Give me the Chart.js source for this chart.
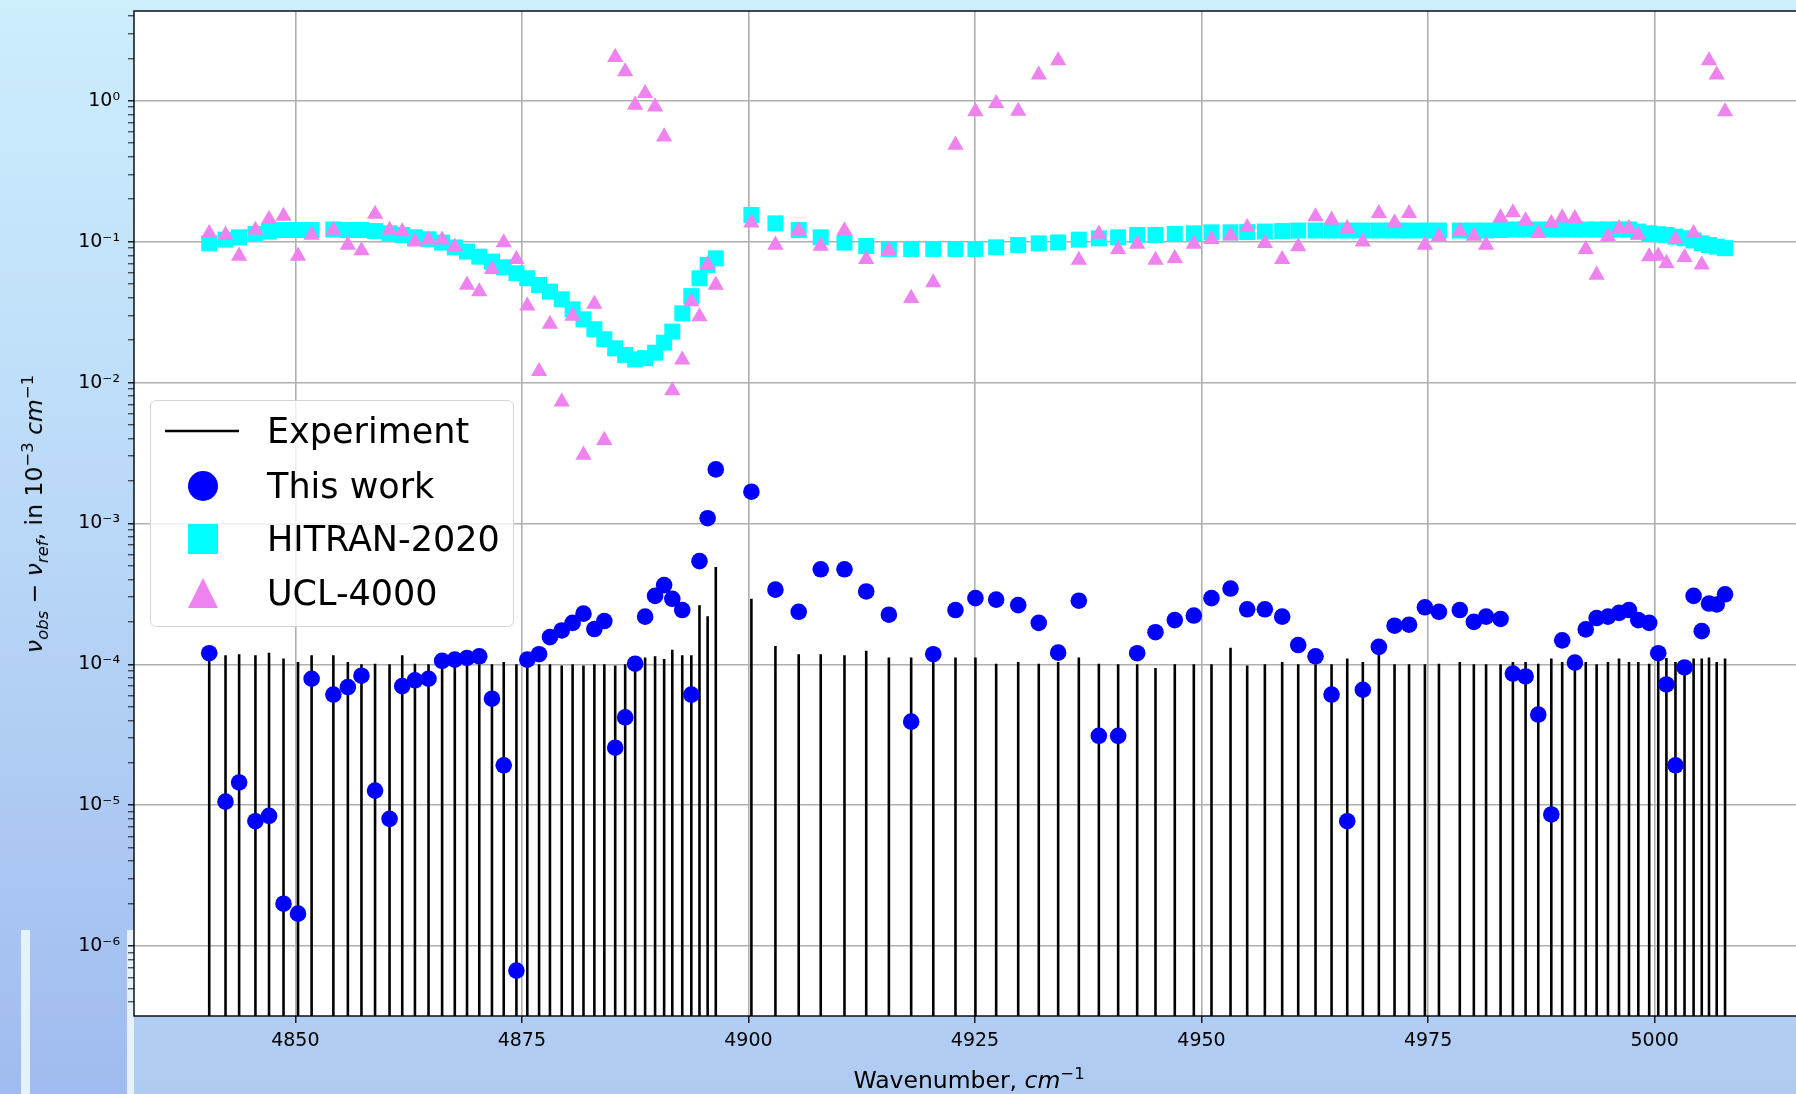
<!DOCTYPE html>
<html>
<head>
<meta charset="utf-8">
<title>Line position residuals</title>
<script src="https://cdn.jsdelivr.net/npm/chart.js@4.4.1/dist/chart.umd.min.js"></script>
<style>
  html, body { margin: 0; padding: 0; }
  body {
    width: 1796px;
    height: 1094px;
    overflow: hidden;
    position: relative;
    background: linear-gradient(180deg, #cdeefd 0%, #bfdcf8 50%, #b0cbf2 100%);
    font-family: "DejaVu Sans", sans-serif;
  }
  .sidebar {
    position: absolute; left: 0; top: 0; width: 134px; height: 1094px;
    background: linear-gradient(180deg, #cdeefd 0%, #b9d7f7 50%, #a0bbef 100%);
  }
  .strip { position: absolute; top: 930px; height: 164px; background: #e6f2fb; }
  #wrap { position: absolute; left: 0; top: 0; width: 1796px; height: 1094px; }
  .xlabel {
    position: absolute; left: 969px; top: 1080px;
    transform: translate(-50%, -50%);
    font-size: 23.5px; white-space: nowrap; color: #000;
  }
  .ylabel {
    position: absolute; left: 34px; top: 514px;
    transform: translate(-50%, -50%) rotate(-90deg);
    font-size: 23.5px; white-space: nowrap; color: #000;
  }
  sub, sup { font-size: 70%; line-height: 0; }
  #legend {
    position: absolute; left: 150px; top: 400px;
    width: 364px; height: 227px; box-sizing: border-box;
    border: 1.5px solid #d4d4d4; border-radius: 6px;
    background: rgba(255, 255, 255, 0.8);
  }
  .row { position: absolute; left: 0; width: 100%; height: 0; }
  .row svg { position: absolute; }
  .row span {
    position: absolute; left: 116px; top: 0;
    transform: translateY(-50%);
    font-size: 35px; line-height: 1; white-space: nowrap; color: #000;
  }
</style>
</head>
<body>
<div class="sidebar"></div>
<div class="strip" style="left:21px;width:9px"></div>
<div class="strip" style="left:127px;width:7px"></div>
<div id="wrap"><canvas id="residChart"></canvas></div>
<div id="legend"></div>
<div class="xlabel">Wavenumber, <i>cm</i><sup>−1</sup></div>
<div class="ylabel"><i>ν</i><sub><i>obs</i></sub> − <i>ν</i><sub><i>ref</i></sub>, in 10<sup>−3</sup> <i>cm</i><sup>−1</sup></div>
<script>
// line positions, cm-1
const wavenumbers = [
  4840.5, 4842.3, 4843.8, 4845.6, 4847.1, 4848.7, 4850.3, 4851.8, 4854.2, 4855.8,
  4857.3, 4858.8, 4860.4, 4861.8, 4863.2, 4864.7, 4866.2, 4867.6, 4868.95, 4870.3,
  4871.7, 4873.0, 4874.4, 4875.6, 4876.9, 4878.1, 4879.4, 4880.6, 4881.8, 4883.0,
  4884.1, 4885.3, 4886.4, 4887.5, 4888.6, 4889.7, 4890.7, 4891.6, 4892.7, 4893.7,
  4894.6, 4895.5, 4896.4, 4900.33, 4902.98, 4905.55, 4907.98, 4910.6, 4913.0, 4915.5,
  4917.96, 4920.4, 4922.85, 4925.05, 4927.34, 4929.77, 4932.04, 4934.18, 4936.46, 4938.67,
  4940.8, 4942.9, 4944.92, 4947.05, 4949.15, 4951.1, 4953.2, 4955.04, 4956.99, 4958.9,
  4960.67, 4962.58, 4964.35, 4966.08, 4967.8, 4969.57, 4971.3, 4972.9, 4974.65, 4976.2,
  4978.5, 4980.05, 4981.4, 4983.0, 4984.36, 4985.76, 4987.16, 4988.6, 4989.8, 4991.2,
  4992.4, 4993.6, 4994.85, 4996.07, 4997.17, 4998.2, 4999.4, 5000.4, 5001.3, 5002.3,
  5003.3, 5004.3, 5005.2, 5006.0, 5006.85, 5007.77
];

// experimental uncertainty (drawn as vertical sticks)
const experiment = [
  1.12e-4, 1.16e-4, 1.18e-4, 1.16e-4, 1.21e-4, 1.10e-4, 1.04e-4, 1.16e-4, 1.16e-4, 1.04e-4,
  1.00e-4, 1.01e-4, 1.00e-4, 1.16e-4, 1.01e-4, 1.00e-4, 1.04e-4, 1.04e-4, 1.00e-4, 1.00e-4,
  1.00e-4, 1.04e-4, 1.00e-4, 1.00e-4, 1.00e-4, 1.00e-4, 0.98e-4, 1.00e-4, 0.98e-4, 1.00e-4,
  1.00e-4, 0.98e-4, 1.00e-4, 1.06e-4, 1.12e-4, 1.14e-4, 1.09e-4, 1.27e-4, 1.16e-4, 1.16e-4,
  2.63e-4, 2.19e-4, 4.90e-4, 2.92e-4, 1.35e-4, 1.18e-4, 1.18e-4, 1.16e-4, 1.25e-4, 1.12e-4,
  1.12e-4, 1.12e-4, 1.12e-4, 1.12e-4, 1.01e-4, 1.04e-4, 1.01e-4, 1.04e-4, 1.12e-4, 1.01e-4,
  1.00e-4, 1.00e-4, 0.94e-4, 1.00e-4, 1.00e-4, 1.00e-4, 1.31e-4, 0.98e-4, 1.00e-4, 1.04e-4,
  1.00e-4, 1.00e-4, 1.00e-4, 1.10e-4, 1.04e-4, 1.18e-4, 1.00e-4, 1.00e-4, 1.00e-4, 1.01e-4,
  1.04e-4, 1.00e-4, 1.00e-4, 1.00e-4, 1.04e-4, 1.04e-4, 1.01e-4, 1.10e-4, 1.04e-4, 1.04e-4,
  1.04e-4, 1.00e-4, 1.04e-4, 1.10e-4, 1.04e-4, 1.04e-4, 1.01e-4, 1.11e-4, 1.11e-4, 1.04e-4,
  1.04e-4, 1.10e-4, 1.10e-4, 1.12e-4, 1.04e-4, 1.10e-4
];

const thisWork = [
  1.20e-4, 1.06e-5, 1.45e-5, 7.7e-6, 8.4e-6, 2.0e-6, 1.7e-6, 7.9e-5, 6.1e-5, 6.9e-5,
  8.3e-5, 1.27e-5, 8.0e-6, 7.0e-5, 7.7e-5, 7.9e-5, 1.06e-4, 1.08e-4, 1.11e-4, 1.14e-4,
  5.7e-5, 1.92e-5, 6.7e-7, 1.08e-4, 1.18e-4, 1.56e-4, 1.74e-4, 1.97e-4, 2.29e-4, 1.78e-4,
  2.03e-4, 2.56e-5, 4.2e-5, 1.01e-4, 2.18e-4, 3.06e-4, 3.65e-4, 2.92e-4, 2.43e-4, 6.1e-5,
  5.4e-4, 1.09e-3, 2.42e-3, 1.68e-3, 3.39e-4, 2.36e-4, 4.73e-4, 4.73e-4, 3.29e-4, 2.25e-4,
  3.92e-5, 1.18e-4, 2.43e-4, 2.95e-4, 2.88e-4, 2.63e-4, 1.97e-4, 1.21e-4, 2.83e-4, 3.11e-5,
  3.11e-5, 1.20e-4, 1.69e-4, 2.06e-4, 2.22e-4, 2.95e-4, 3.45e-4, 2.46e-4, 2.46e-4, 2.18e-4,
  1.37e-4, 1.14e-4, 6.1e-5, 7.7e-6, 6.6e-5, 1.33e-4, 1.88e-4, 1.91e-4, 2.54e-4, 2.36e-4,
  2.43e-4, 2.00e-4, 2.18e-4, 2.10e-4, 8.6e-5, 8.2e-5, 4.4e-5, 8.6e-6, 1.48e-4, 1.03e-4,
  1.77e-4, 2.13e-4, 2.18e-4, 2.32e-4, 2.43e-4, 2.06e-4, 1.97e-4, 1.20e-4, 7.2e-5, 1.92e-5,
  9.5e-5, 3.06e-4, 1.72e-4, 2.70e-4, 2.66e-4, 3.14e-4
];

const hitran2020 = [
  0.0973, 0.1034, 0.1074, 0.1134, 0.118, 0.121, 0.121, 0.121, 0.122, 0.121,
  0.121, 0.119, 0.1146, 0.1115, 0.1074, 0.104, 0.0985, 0.091, 0.085, 0.0783,
  0.0722, 0.0658, 0.0597, 0.055, 0.0493, 0.0442, 0.039, 0.0331, 0.0281, 0.0239,
  0.0203, 0.0175, 0.0157, 0.0146, 0.0149, 0.0163, 0.0192, 0.023, 0.031, 0.0411,
  0.055, 0.0684, 0.0762, 0.1547, 0.135, 0.121, 0.1074, 0.0985, 0.0932, 0.0888,
  0.0888, 0.0888, 0.0888, 0.0888, 0.0912, 0.0947, 0.0973, 0.0988, 0.1034, 0.1056,
  0.1074, 0.1115, 0.1115, 0.1134, 0.1146, 0.1165, 0.1165, 0.117, 0.118, 0.119,
  0.12, 0.12, 0.12, 0.12, 0.12, 0.12, 0.12, 0.12, 0.12, 0.12,
  0.12, 0.12, 0.12, 0.121, 0.122, 0.122, 0.122, 0.122, 0.122, 0.122,
  0.122, 0.122, 0.122, 0.122, 0.122, 0.118, 0.1146, 0.113, 0.1115, 0.1086,
  0.1057, 0.102, 0.0973, 0.0947, 0.0922, 0.0899
];

const ucl4000 = [
  0.1147, 0.1116, 0.0792, 0.121, 0.144, 0.152, 0.0792, 0.1116, 0.121, 0.0948,
  0.0865, 0.157, 0.121, 0.118, 0.100, 0.103, 0.103, 0.092, 0.0493, 0.0442,
  0.0637, 0.0986, 0.075, 0.035, 0.012, 0.026, 0.0073, 0.0297, 0.00306, 0.0361,
  0.0039, 2.04, 1.61, 0.934, 1.13, 0.908, 0.556, 0.00877, 0.0145, 0.0376,
  0.0294, 0.0684, 0.0493, 0.1364, 0.0947, 0.120, 0.0932, 0.120, 0.075, 0.0865,
  0.0397, 0.0512, 0.486, 0.838, 0.96, 0.846, 1.53, 1.93, 0.0741, 0.1134,
  0.0883, 0.0963, 0.0741, 0.0762, 0.0963, 0.1039, 0.11, 0.1265, 0.0974, 0.075,
  0.0922, 0.1506, 0.1426, 0.1245, 0.100, 0.159, 0.1364, 0.159, 0.0947, 0.1086,
  0.1178, 0.1098, 0.0947, 0.148, 0.1607, 0.141, 0.1147, 0.135, 0.148, 0.1465,
  0.0883, 0.058, 0.1086, 0.1245, 0.1245, 0.1115, 0.0783, 0.0792, 0.0703, 0.1039,
  0.0774, 0.1147, 0.0685, 1.93, 1.53, 0.838
];

const xTicks = [4850, 4875, 4900, 4925, 4950, 4975, 5000];
const yTicks = [1e-6, 1e-5, 1e-4, 1e-3, 1e-2, 1e-1, 1];
const yTickLabels = ["10⁻⁶", "10⁻⁵", "10⁻⁴", "10⁻³", "10⁻²", "10⁻¹", "10⁰"];

const toPoints = (ys) => wavenumbers.map((x, i) => ({ x: x, y: ys[i] }));

const datasets = [
  {
    type: "bar",
    label: "Experiment",
    data: toPoints(experiment),
    backgroundColor: "#000000",
    barThickness: 2.6,
    grouped: false,
    inflateAmount: 0,
    borderWidth: 0,
    order: 4,
  },
  {
    type: "scatter",
    label: "This work",
    data: toPoints(thisWork),
    pointStyle: "circle",
    pointRadius: 8.3,
    backgroundColor: "#0000ff",
    borderWidth: 0,
    order: 3,
  },
  {
    type: "scatter",
    label: "HITRAN-2020",
    data: toPoints(hitran2020),
    pointStyle: "rect",
    pointRadius: 11.3,
    backgroundColor: "#00ffff",
    borderWidth: 0,
    order: 2,
  },
  {
    type: "scatter",
    label: "UCL-4000",
    data: toPoints(ucl4000),
    pointStyle: "triangle",
    pointRadius: 9.4,
    backgroundColor: "#ee82ee",
    borderWidth: 0,
    order: 1,
  },
];

// white plot background + black frame
const framePlugin = {
  id: "frame",
  beforeDraw(chart) {
    const { ctx, chartArea: a } = chart;
    ctx.save();
    ctx.fillStyle = "#ffffff";
    ctx.fillRect(a.left, a.top, a.right - a.left, a.bottom - a.top);
    ctx.restore();
  },
  afterDatasetsDraw(chart) {
    const { ctx, chartArea: a } = chart;
    ctx.save();
    ctx.strokeStyle = "#000000";
    ctx.lineWidth = 1.4;
    ctx.strokeRect(a.left, a.top, a.right - a.left + 5, a.bottom - a.top);
    ctx.restore();
  },
};

const yLabelFor = (v) => {
  const k = yTicks.findIndex((t) => Math.abs(v / t - 1) < 1e-6);
  return k >= 0 ? yTickLabels[k] : "";
};

const residChart = new Chart(document.getElementById("residChart"), {
  type: "scatter",
  data: { datasets: datasets },
  plugins: [framePlugin],
  options: {
    responsive: true,
    maintainAspectRatio: false,
    animation: false,
    layout: { autoPadding: false, padding: { top: 11, right: 0, left: 0, bottom: 0 } },
    plugins: { legend: { display: false }, tooltip: { enabled: false } },
    scales: {
      x: {
        type: "linear",
        offset: false,
        min: 4832.2,
        max: 5015.6,
        afterBuildTicks: (s) => {
          s.ticks = xTicks.map((v) => ({ value: v }));
        },
        afterFit: (s) => {
          s.height = 78;
          s.paddingLeft = 0;
          s.paddingRight = 0;
        },
        border: { display: false },
        grid: { offset: false, color: "#b0b0b0", lineWidth: 1.6, tickColor: "#000000", tickLength: 7, tickWidth: 1.3 },
        ticks: {
          color: "#000000",
          font: { family: "DejaVu Sans", size: 19 },
          padding: 7,
          maxRotation: 0,
          autoSkip: false,
          callback: (v) => String(v),
        },
      },
      y: {
        type: "logarithmic",
        offset: false,
        min: 3.19e-7,
        max: 4.34,
        afterBuildTicks: (s) => {
          const t = [];
          for (let e = -7; e <= 0; e++) {
            for (let m = 1; m <= 9; m++) {
              const v = m * Math.pow(10, e);
              if (v >= s.min && v <= s.max) t.push({ value: v, major: m === 1 });
            }
          }
          s.ticks = t;
        },
        afterFit: (s) => {
          s.width = 134;
          s.paddingTop = 0;
          s.paddingBottom = 0;
        },
        border: { display: false },
        grid: {
          color: (c) => (c.tick && c.tick.major ? "#b0b0b0" : "rgba(0,0,0,0)"),
          lineWidth: 1.6,
          tickColor: "#000000",
          tickLength: 6,
          tickWidth: (c) => (c.tick && c.tick.major ? 1.3 : 0.9),
        },
        ticks: {
          color: "#000000",
          font: { family: "DejaVu Sans", size: 19 },
          padding: 8,
          autoSkip: false,
          callback: (v) => yLabelFor(v),
        },
      },
    },
  },
});

// legend in the plot, built from the datasets
const legend = document.getElementById("legend");
const rowTops = [29.5, 84.5, 137.5, 192];
datasets.forEach((d, i) => {
  const row = document.createElement("div");
  row.className = "row";
  row.style.top = rowTops[i] + "px";
  let svg;
  if (d.type === "bar") {
    svg = '<svg width="74" height="6" style="left:14px;top:-3px"><line x1="0" y1="3" x2="74" y2="3" stroke="' +
      d.backgroundColor + '" stroke-width="2.6"/></svg>';
  } else if (d.pointStyle === "circle") {
    svg = '<svg width="32" height="32" style="left:35.5px;top:-16px"><circle cx="16" cy="16" r="15" fill="' +
      d.backgroundColor + '"/></svg>';
  } else if (d.pointStyle === "rect") {
    svg = '<svg width="30" height="30" style="left:36.5px;top:-15px"><rect x="0" y="0" width="30" height="30" fill="' +
      d.backgroundColor + '"/></svg>';
  } else {
    svg = '<svg width="32" height="32" style="left:35.5px;top:-16px"><polygon points="16,1 1,31 31,31" fill="' +
      d.backgroundColor + '"/></svg>';
  }
  row.innerHTML = svg + "<span>" + d.label + "</span>";
  legend.appendChild(row);
});
</script>
</body>
</html>
